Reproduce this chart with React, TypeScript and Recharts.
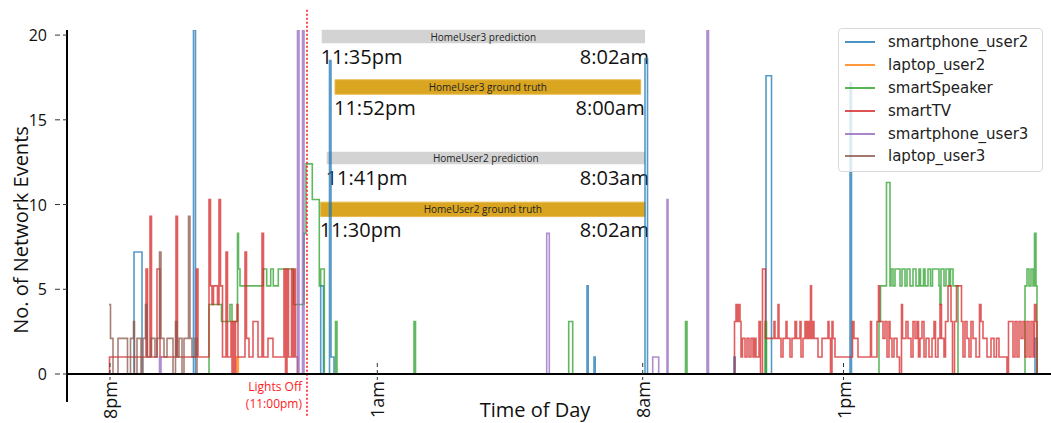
import React from "react";
import {
  LineChart,
  Line,
  XAxis,
  YAxis,
  ReferenceLine,
  ReferenceArea,
  Legend,
} from "recharts";

// x = sample index along the time-of-day axis, y = number of network events
type Step = [number, number];

const smartphoneUser2: Step[] = [
  [42, 0], [67, 7.2], [75, 0], [126.5, 20.3], [128.5, 0], [253.7, 5.2], [256.5, 0],
  [262.5, 18.5], [264, 1], [267, 0], [520, 5.2], [521.2, 0], [527, 1], [528.2, 0],
  [578, 18.6], [580.5, 0], [667, 1], [668.2, 0], [699, 17.6], [704.5, 0],
  [783, 17.2], [784.5, 0], [968, 2.1], [970, 0],
];

const laptopUser2: Step[] = [[42, 0], [169.7, 1], [171.3, 0], [970, 0]];

const smartSpeaker: Step[] = [
  [42, 0], [142, 4.1], [154.5, 3.1], [163, 4.1], [165, 3.1], [170.5, 8.3], [171.5, 6.2],
  [173, 5.2], [196.3, 6.2], [199.7, 5.2], [203.7, 6.2], [206.3, 5.2], [211.3, 6.2],
  [226.5, 4.1], [237, 8.3], [239, 12.4], [245.3, 10.3], [252.3, 5.2], [253.7, 6.2],
  [257.3, 0], [268.5, 3.1], [270, 0], [347, 3.1], [348.5, 0], [501.7, 3.1], [505.7, 0],
  [618.5, 3.1], [620, 0], [698, 3.1], [699.5, 0], [812, 3.1], [813.5, 5.2], [819.5, 11.3],
  [823, 5.2], [824, 6.2], [826, 5.2], [828, 6.2], [833, 5.2], [835, 6.2], [838, 5.2],
  [840, 6.2], [843, 5.2], [846, 6.2], [849, 5.2], [852, 6.2], [853.5, 5.2], [856.5, 6.2],
  [858, 5.2], [861, 6.2], [863.5, 5.2], [865.5, 6.2], [872, 5.2], [873, 4.1], [874, 6.2],
  [877, 5.2], [879, 6.2], [882, 5.2], [883.5, 6.2], [886, 5.2], [891, 0], [958, 5.2],
  [960, 6.2], [962, 5.2], [964, 6.2], [966, 5.2], [967.5, 8.3], [969, 5.2], [970, 0],
];

const smartTV: Step[] = [
  [42, 0], [42.5, 1], [79, 6.2], [80.5, 1], [83, 9.3], [84.5, 1], [90, 6.2], [93, 1],
  [109, 9.3], [110.5, 1], [129.5, 6.2], [131, 1], [142, 10.3], [143.5, 5.2], [145, 4.1],
  [146.5, 5.2], [150.5, 4.1], [152, 10.3], [153.5, 5.2], [155.5, 1], [159, 7.2], [160.5, 1],
  [164, 3.1], [165, 0], [166, 3.1], [167.5, 0], [168.5, 3.1], [170, 4.1], [171, 1],
  [178, 7.2], [179.5, 2.1], [182, 1], [186, 3.1], [191, 1], [195, 8.3], [196.5, 1],
  [201, 2.1], [206, 1], [217, 6.2], [218.5, 0], [220, 6.2], [221.5, 1], [224.5, 6.2],
  [226, 1], [227, 6.2], [228.5, 1], [230.5, 0],
  [667.5, 3.1], [669, 4.1], [670, 3.1], [671.5, 4.1], [673, 3.1], [674, 1], [675.5, 2.1],
  [678, 1], [680, 2.1], [682, 1], [684, 2.1], [686, 1], [687.5, 2.1], [689, 1], [692, 3.1],
  [693.5, 0], [695.5, 6.2], [698.5, 2.1], [707, 3.1], [708, 2.1], [711, 4.1], [712, 2.1],
  [714, 1], [716, 2.1], [719, 3.1], [720, 2.1], [723, 1], [725, 2.1], [728, 3.1],
  [729.5, 2.1], [733, 3.1], [734, 1], [736, 2.1], [738, 3.1], [739.5, 2.1], [741, 3.1],
  [742, 2.1], [743.5, 5.2], [744.5, 2.1], [746, 3.1], [747, 2.1], [751, 1], [755, 2.1],
  [761, 3.1], [762, 2.1], [763.5, 0], [765, 3.1], [766, 2.1], [768, 1], [785.5, 3.1],
  [787, 2.1], [791, 1], [803.5, 3.1], [804.5, 1], [810, 3.1], [811.5, 5.2], [812.5, 3.1],
  [816, 2.1], [818, 3.1], [820, 1], [822, 3.1], [823, 2.1], [825, 1], [827, 2.1], [830, 1],
  [832.5, 0], [834.5, 4.1], [835.5, 2.1], [839, 3.1], [841, 2.1], [844, 1], [846, 3.1],
  [848, 2.1], [850, 3.1], [851.5, 1], [853, 2.1], [855, 3.1], [857, 1], [859, 2.1],
  [862, 1], [865, 2.1], [867, 3.1], [868.5, 1], [871, 2.1], [873, 4.1], [874.5, 2.1],
  [877, 1], [878.5, 3.1], [881, 5.2], [884, 3.1], [885.5, 0], [887.5, 3.1], [889.5, 5.2],
  [894.5, 3.1], [896, 1], [898, 3.1], [900, 2.1], [902, 1], [904, 3.1], [906, 2.1],
  [909, 1], [912.5, 4.1], [914, 3.1], [916, 2.1], [920, 1], [924, 2.1], [927, 1],
  [929.5, 2.1], [932, 1], [940, 0], [941.5, 3.1], [946, 1], [948, 3.1], [950, 1],
  [952, 3.1], [954, 2.1], [956, 3.1], [958, 1], [960, 3.1], [962, 1], [964, 3.1], [966, 1],
  [967.5, 4.1], [969, 3.1], [970, 0],
];

const smartphoneUser3: Step[] = [
  [42, 0], [92.5, 1], [94, 0], [230.5, 20.3], [232, 0], [235.5, 20.3], [237, 0],
  [479.7, 8.3], [482.3, 0], [585.7, 1], [591.7, 0], [600, 10.3], [601, 0],
  [640, 20.3], [641.5, 0], [970, 0],
];

const laptopUser3: Step[] = [
  [42, 4.1], [43.5, 2.1], [46, 0], [51, 2.1], [60.5, 0], [63.5, 2.1], [66.5, 3.1],
  [67.5, 0], [70, 2.1], [74, 0], [76, 2.1], [78.5, 4.1], [80, 1], [84, 2.1], [88, 1],
  [90, 2.1], [92.5, 7.2], [94, 2.1], [97, 1], [100, 2.1], [106, 0], [108.5, 3.1],
  [110, 1], [112, 2.1], [115, 0], [117, 2.1], [121.5, 9.3], [123, 2.1], [125, 1],
  [128, 2.1], [130, 0], [970, 0],
];

const seriesNames = [
  "smartphone_user2",
  "laptop_user2",
  "smartSpeaker",
  "smartTV",
  "smartphone_user3",
  "laptop_user3",
];
const seriesColors = ["#1f77b4", "#ff7f0e", "#2ca02c", "#d62728", "#9467bd", "#8c564b"];
const seriesSteps = [smartphoneUser2, laptopUser2, smartSpeaker, smartTV, smartphoneUser3, laptopUser3];

const xTickValues = [43, 310.3, 575.7, 776.5];
const xTickLabels = ["8pm", "1am", "8am", "1pm"];
const yTickValues = [0, 5, 10, 15, 20];

const lightsOffX = 240;

const annotationLabels = [
  "HomeUser3 prediction",
  "HomeUser3 ground truth",
  "HomeUser2 prediction",
  "HomeUser2 ground truth",
];
const annotationStart = ["11:35pm", "11:52pm", "11:41pm", "11:30pm"];
const annotationEnd = ["8:02am", "8:00am", "8:03am", "8:02am"];
const annotationX1 = [254.7, 268, 259.7, 253.7];
const annotationX2 = [578, 573.7, 578, 578];
const annotationY1 = [19.52, 16.51, 12.38, 9.29];
const annotationY2 = [20.31, 17.36, 13.12, 10.14];
const annotationKind = ["prediction", "truth", "prediction", "truth"];

const FONT = "'Open Sans', sans-serif";

const XTick = (props: any) => {
  const { x, y, payload } = props;
  const i = xTickValues.indexOf(payload.value);
  const label = i >= 0 ? xTickLabels[i] : "";
  return (
    <g>
      <line x1={x} x2={x} y1={y - 11} y2={y + 6} stroke="#333" strokeWidth={1} strokeDasharray="4 3" />
      <text
        x={x}
        y={y + 7}
        transform={`rotate(-90 ${x} ${y + 7})`}
        textAnchor="end"
        dominantBaseline="central"
        fontFamily={FONT}
        fontSize={18}
        fill="#111"
      >
        {label}
      </text>
    </g>
  );
};

const YTick = (props: any) => {
  const { x, y, payload } = props;
  return (
    <g>
      <line x1={x - 12} x2={x} y1={y} y2={y} stroke="#333" strokeWidth={1} strokeDasharray="5 3" />
      <text x={x - 20} y={y} textAnchor="end" dominantBaseline="central" fontFamily={FONT} fontSize={16} fill="#111">
        {payload.value}
      </text>
    </g>
  );
};

const YTitle = (props: any) => {
  const vb = props.viewBox || { x: 0, y: 30, width: 67, height: 344 };
  const cx = vb.x + 20;
  const cy = vb.y + vb.height / 2 + 28;
  return (
    <text
      x={cx}
      y={cy}
      transform={`rotate(-90 ${cx} ${cy})`}
      textAnchor="middle"
      dominantBaseline="central"
      fontFamily={FONT}
      fontSize={20}
      fill="#111"
    >
      No. of Network Events
    </text>
  );
};

const XTitle = (props: any) => {
  const vb = props.viewBox || { x: 67, y: 374, width: 984, height: 49 };
  return (
    <text x={vb.x + vb.width / 2 - 24} y={vb.y + 43} textAnchor="middle" fontFamily={FONT} fontSize={20} fill="#111">
      Time of Day
    </text>
  );
};

const LightsOffLabel = (props: any) => {
  const vb = props.viewBox || { x: 307, y: 10, width: 0, height: 406 };
  const x = vb.x;
  const bottom = Math.max(vb.y, vb.y + vb.height);
  return (
    <g fontFamily={FONT} fontSize={12} fill="#ff1a1a">
      <text x={x - 5} y={bottom - 25} textAnchor="end">Lights Off</text>
      <text x={x - 5} y={bottom - 8} textAnchor="end">(11:00pm)</text>
    </g>
  );
};

const makeAnnotationLabel = (i: number) => (props: any) => {
  const vb = props.viewBox;
  if (!vb) return null;
  const { x, y, width, height } = vb;
  return (
    <g fontFamily={FONT}>
      <text x={x + width / 2} y={y + height / 2} textAnchor="middle" dominantBaseline="central" fontSize={10} fill="#222">
        {annotationLabels[i]}
      </text>
      <text x={x - 1} y={y + height + 20.5} fontSize={20} fill="#111">
        {annotationStart[i]}
      </text>
      <text x={x + width + 4} y={y + height + 20.5} textAnchor="end" fontSize={20} fill="#111">
        {annotationEnd[i]}
      </text>
    </g>
  );
};

const LegendBox = () => (
  <div
    style={{
      position: "relative",
      width: 205,
      height: 144,
      boxSizing: "border-box",
      border: "1px solid #d9d9d9",
      borderRadius: 4,
      background: "rgba(255,255,255,0.8)",
      fontFamily: "'DejaVu Sans', sans-serif",
      fontSize: 15,
      color: "#222",
    }}
  >
    {seriesNames.map((name, i) => (
      <div
        key={name}
        style={{
          position: "absolute",
          left: 0,
          top: 2 + i * 22.8,
          height: 22.8,
          display: "flex",
          alignItems: "center",
          whiteSpace: "nowrap",
        }}
      >
        <span
          style={{
            display: "inline-block",
            width: 30,
            height: 2,
            marginLeft: 6,
            background: seriesColors[i],
            opacity: 0.8,
          }}
        />
        <span style={{ marginLeft: 13 }}>{name}</span>
      </div>
    ))}
  </div>
);

export default function App() {
  return (
    <div style={{ position: "absolute", left: 0, top: 0, width: 1051, height: 423, background: "#fff" }}>
      <LineChart width={1051} height={423} margin={{ top: 30, right: 0, bottom: 0, left: 0 }}>
        <XAxis
          type="number"
          dataKey="x"
          domain={[0, 984]}
          ticks={xTickValues}
          tick={<XTick />}
          tickLine={false}
          tickSize={0}
          tickMargin={0}
          height={49}
          axisLine={{ stroke: "#000", strokeWidth: 2 }}
          allowDataOverflow
          label={<XTitle />}
        />
        <YAxis
          type="number"
          domain={[0, 20.3]}
          ticks={yTickValues}
          tick={<YTick />}
          tickLine={false}
          tickSize={0}
          tickMargin={0}
          width={67}
          axisLine={{ stroke: "#000", strokeWidth: 2 }}
          allowDataOverflow
          label={<YTitle />}
        />
        <ReferenceLine
          segment={[{ x: 0, y: 0 }, { x: 0, y: -1.65 }]}
          stroke="#000"
          strokeWidth={2}
          ifOverflow="visible"
        />
        {annotationLabels.map((lab, i) => (
          <ReferenceArea
            key={lab}
            x1={annotationX1[i]}
            x2={annotationX2[i]}
            y1={annotationY1[i]}
            y2={annotationY2[i]}
            fill={annotationKind[i] === "truth" ? "#daa520" : "#d3d3d3"}
            fillOpacity={1}
            stroke={annotationKind[i] === "truth" ? "#e8b94a" : "none"}
            strokeWidth={1}
            ifOverflow="visible"
            label={makeAnnotationLabel(i)}
          />
        ))}
        {seriesNames.map((name, i) => (
          <Line
            key={name}
            name={name}
            data={seriesSteps[i].map(([x, y]) => ({ x, y }))}
            dataKey="y"
            type="stepAfter"
            stroke={seriesColors[i]}
            strokeWidth={1.6}
            strokeOpacity={0.75}
            dot={false}
            activeDot={false}
            isAnimationActive={false}
          />
        ))}
        <ReferenceLine
          segment={[{ x: lightsOffX, y: 21.5 }, { x: lightsOffX, y: -2.5 }]}
          stroke="#ff1a1a"
          strokeWidth={1.6}
          strokeDasharray="2 2"
          ifOverflow="visible"
          label={<LightsOffLabel />}
        />
        <Legend
          layout="vertical"
          align="center"
          verticalAlign="middle"
          content={() => <LegendBox />}
          wrapperStyle={{ left: 838, top: 28, width: 205, height: 144 }}
        />
      </LineChart>
    </div>
  );
}
